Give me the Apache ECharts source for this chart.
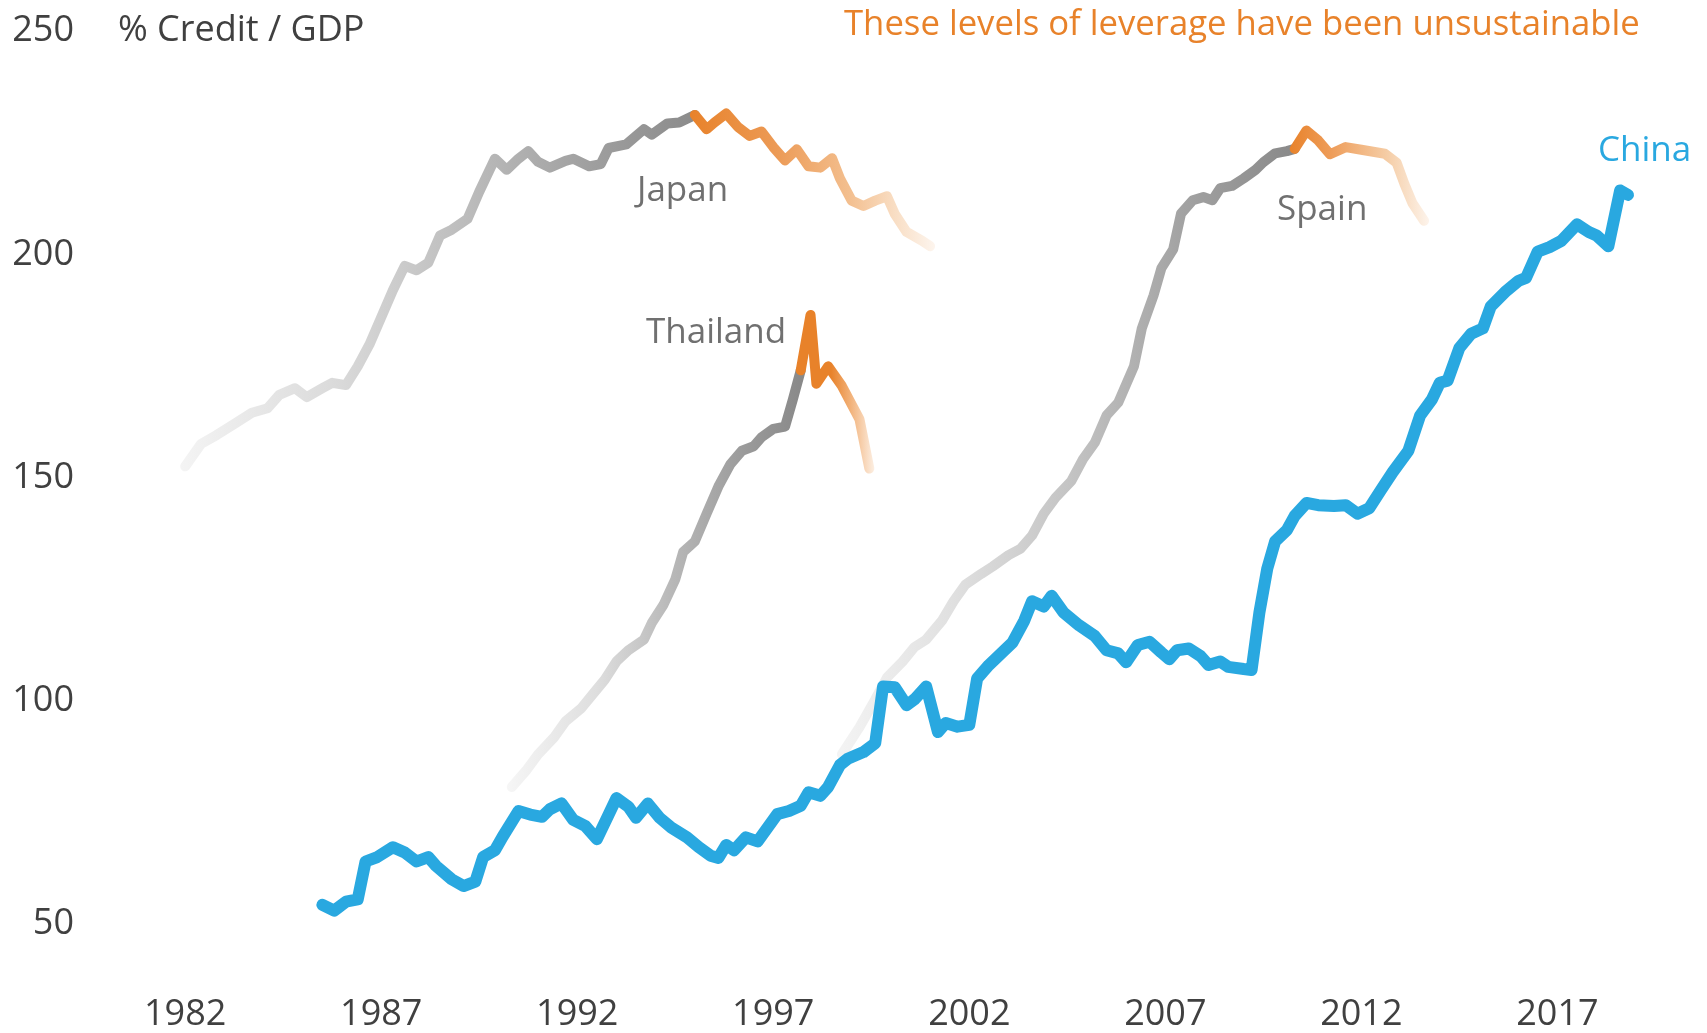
<!DOCTYPE html>
<html>
<head>
<meta charset="utf-8">
<title>Credit / GDP</title>
<script src="https://cdn.jsdelivr.net/npm/echarts@6/dist/echarts.min.js"></script>
<style>
  html, body { margin: 0; padding: 0; background: #fff; }
  #chart { width: 1707px; height: 1033px; }
</style>
</head>
<body>
<div id="chart"></div>
<script>
// x ticks (years) and y ticks
const yearTicks = [1982, 1987, 1992, 1997, 2002, 2007, 2012, 2017]
const valueTicks = [50, 100, 150, 200, 250]

// [year, % credit / GDP]
const china = [
  [1985.5, 54.3], [1985.8, 53], [1986.1, 55], [1986.4, 55.5], [1986.6, 64], [1986.9, 65],
  [1987.3, 67.2], [1987.6, 66], [1987.9, 64], [1988.2, 65], [1988.4, 63], [1988.8, 60],
  [1989.1, 58.5], [1989.4, 59.5], [1989.6, 65], [1989.9, 66.5], [1990.1, 69.6], [1990.5, 75.3],
  [1990.8, 74.5], [1991.1, 74], [1991.3, 75.7], [1991.6, 77], [1991.9, 73.3], [1992.2, 72],
  [1992.5, 69], [1992.8, 74.5], [1993.0, 78.2], [1993.3, 76.3], [1993.5, 73.8], [1993.8, 77],
  [1994.1, 73.8], [1994.4, 71.6], [1994.8, 69.4], [1995.1, 67.2], [1995.4, 65.3], [1995.6, 64.8],
  [1995.8, 67.7], [1996.0, 66.5], [1996.3, 69.4], [1996.6, 68.5], [1997.1, 74.6], [1997.4, 75.3],
  [1997.7, 76.5], [1997.9, 79.5], [1998.2, 78.7], [1998.4, 80.7], [1998.7, 85.6], [1998.9, 87],
  [1999.3, 88.5], [1999.6, 90.5], [1999.8, 103.2], [2000.1, 103], [2000.4, 99], [2000.6, 100.3],
  [2000.9, 103.2], [2001.2, 93], [2001.4, 95], [2001.7, 94.2], [2002.0, 94.6], [2002.2, 105],
  [2002.5, 108], [2002.8, 110.5], [2003.1, 113], [2003.4, 117.9], [2003.6, 122.3], [2003.9, 121.1],
  [2004.1, 123.5], [2004.4, 119.8], [2004.8, 116.9], [2005.2, 114.5], [2005.5, 111.3], [2005.8, 110.6],
  [2006.0, 108.6], [2006.3, 112.5], [2006.6, 113.2], [2006.9, 110.8], [2007.1, 109.3], [2007.3, 111.3],
  [2007.6, 111.7], [2007.9, 110], [2008.1, 108], [2008.4, 108.8], [2008.6, 107.6], [2009.0, 107.1],
  [2009.2, 106.9], [2009.4, 119.8], [2009.6, 129.6], [2009.8, 135.7], [2010.1, 138.2], [2010.3, 141.4],
  [2010.6, 144.3], [2010.9, 143.8], [2011.3, 143.6], [2011.6, 143.8], [2011.9, 141.9], [2012.2, 143.1],
  [2012.5, 147.2], [2012.8, 151.2], [2013.2, 156], [2013.5, 163.9], [2013.8, 167.5], [2014.0, 171.2],
  [2014.2, 171.7], [2014.5, 179], [2014.8, 182.2], [2015.1, 183.4], [2015.3, 188.3], [2015.7, 191.8],
  [2016.0, 194], [2016.2, 194.7], [2016.5, 200.6], [2016.8, 201.6], [2017.1, 203], [2017.5, 206.7],
  [2017.8, 205], [2018.0, 204.2], [2018.3, 201.8], [2018.6, 214.3], [2018.8, 213.3]
]

const japanRise = [
  [1982.0, 152.5], [1982.4, 157.5], [1982.8, 159.5], [1983.25, 162], [1983.7, 164.5], [1984.1, 165.5],
  [1984.4, 168.5], [1984.8, 170], [1985.1, 168], [1985.5, 170], [1985.75, 171.2], [1986.1, 170.7],
  [1986.4, 174.9], [1986.7, 179.8], [1987.0, 185.9], [1987.3, 192], [1987.6, 197.4], [1987.9, 196.4],
  [1988.2, 198.1], [1988.5, 204.2], [1988.8, 205.5], [1989.2, 207.9], [1989.5, 214], [1989.9, 221.4],
  [1990.2, 218.9], [1990.5, 221.4], [1990.75, 223.1], [1991.0, 220.7], [1991.3, 219.4], [1991.7, 220.9],
  [1991.9, 221.4], [1992.3, 219.7], [1992.6, 220.2], [1992.8, 223.8], [1993.25, 224.6], [1993.7, 228],
  [1993.9, 226.8], [1994.3, 229.3], [1994.6, 229.5], [1995.0, 231.2]
]
const japanFall = [
  [1995.0, 231.2], [1995.3, 228], [1995.5, 229.5], [1995.8, 231.5], [1996.1, 228.5], [1996.4, 226.5],
  [1996.7, 227.5], [1997.0, 224], [1997.3, 221], [1997.6, 223.5], [1997.9, 219.7], [1998.2, 219.4],
  [1998.5, 221.5], [1998.7, 217], [1999.0, 212], [1999.3, 210.8], [1999.6, 212], [1999.9, 213],
  [2000.1, 209], [2000.4, 205], [2000.8, 203], [2001.0, 201.8]
]

const thailandRise = [
  [1990.33, 80.7], [1990.7, 84.4], [1991.0, 88], [1991.4, 91.7], [1991.7, 95.4], [1992.1, 98.3],
  [1992.4, 101.5], [1992.7, 104.7], [1993.0, 108.8], [1993.3, 111.3], [1993.7, 113.7], [1993.9, 117.4],
  [1994.2, 121.5], [1994.5, 127.2], [1994.7, 133.3], [1995.0, 135.7], [1995.3, 141.9], [1995.6, 148],
  [1995.9, 152.9], [1996.2, 156], [1996.5, 157], [1996.7, 159], [1997.0, 160.9], [1997.3, 161.4],
  [1997.5, 167.5], [1997.7, 174]
]
const thailandFall = [
  [1997.7, 174], [1997.95, 186.4], [1998.1, 171], [1998.4, 174.9], [1998.75, 170.5], [1999.2, 163],
  [1999.45, 152]
]

const spainRise = [
  [1998.75, 88], [1999.2, 94.1], [1999.6, 100.3], [1999.9, 105.2], [2000.3, 108.8], [2000.6, 112],
  [2000.9, 113.7], [2001.3, 117.9], [2001.6, 122.3], [2001.9, 126], [2002.3, 128.4], [2002.6, 130.1],
  [2003.0, 132.6], [2003.3, 134], [2003.6, 137], [2003.9, 141.9], [2004.2, 145.5], [2004.6, 149.2],
  [2004.9, 154.1], [2005.2, 157.8], [2005.5, 163.9], [2005.8, 166.8], [2006.2, 174.9], [2006.4, 183.4],
  [2006.7, 190.8], [2006.9, 196.9], [2007.2, 201.1], [2007.4, 209.1], [2007.7, 212.1], [2007.97, 212.8],
  [2008.2, 212.1], [2008.4, 214.8], [2008.7, 215.3], [2009.0, 217], [2009.3, 218.9], [2009.5, 220.6],
  [2009.8, 222.6], [2010.1, 223.1], [2010.3, 223.6]
]
const spainFall = [
  [2010.3, 223.6], [2010.6, 227.7], [2010.9, 225.5], [2011.2, 222.4], [2011.6, 224], [2012.0, 223.4],
  [2012.6, 222.5], [2012.9, 220.5], [2013.1, 215.7], [2013.3, 211.5], [2013.6, 207.5]
]

const FONT = '"Open Sans", "Noto Sans", sans-serif'
const ORANGE = '#e8822a'
const BLUE = '#29a8e0'

// horizontal fade helper (relative to the line's own box)
const fade = (stops) => ({
  type: 'linear', x: 0, y: 0, x2: 1, y2: 0,
  colorStops: stops.map(s => ({ offset: s[0], color: s[1] })),
})

const line = (name, data, color, width, z) => ({
  name,
  type: 'line',
  data,
  symbol: 'none',
  z,
  clip: false,
  lineStyle: { color, width, cap: 'round', join: 'round' },
})

const chart = echarts.init(document.getElementById('chart'))
chart.setOption({
  animation: false,
  backgroundColor: '#fff',
  grid: { left: 146, right: 32, top: 31, bottom: 107 },
  xAxis: {
    type: 'value',
    min: 1981,
    max: 2020,
    axisLine: { show: false },
    axisTick: { show: false },
    splitLine: { show: false },
    axisLabel: {
      customValues: yearTicks,
      margin: 73,
      color: '#404040',
      fontSize: 36,
      fontFamily: FONT,
      formatter: (v) => String(v),
    },
  },
  yAxis: {
    type: 'value',
    min: 50,
    max: 250,
    interval: 50,
    axisLine: { show: false },
    axisTick: { show: false },
    splitLine: { show: false },
    axisLabel: {
      customValues: valueTicks,
      margin: 72,
      color: '#404040',
      fontSize: 36,
      fontFamily: FONT,
      padding: [0, 0, 4, 0],
    },
  },
  series: [
    line('Japan', japanRise, fade([[0, '#f4f4f4'], [0.3, '#dadada'], [0.55, '#bcbcbc'], [0.8, '#9e9e9e'], [1, '#8a8a8a']]), 10, 2),
    line('Japan', japanFall, fade([[0, ORANGE], [0.35, '#ec9a55'], [0.65, '#f3bf8f'], [0.85, '#f9e0c8'], [1, '#fdf5ee']]), 10, 2),
    line('Thailand', thailandRise, fade([[0, '#f6f6f6'], [0.3, '#dedede'], [0.55, '#b8b8b8'], [0.8, '#9a9a9a'], [1, '#888']]), 10, 2),
    line('Thailand', thailandFall, fade([[0, ORANGE], [0.45, ORANGE], [0.7, '#f2b27a'], [1, '#fcefe3']]), 10, 2),
    line('Spain', spainRise, fade([[0, '#f4f4f4'], [0.25, '#e0e0e0'], [0.5, '#c4c4c4'], [0.75, '#a2a2a2'], [1, '#888']]), 10, 2),
    line('Spain', spainFall, fade([[0, ORANGE], [0.3, '#ee9d5a'], [0.7, '#f5cda6'], [1, '#fdf4ec']]), 10, 2),
    line('China', china, BLUE, 12, 5),
  ],
  graphic: [
    { type: 'text', left: 118, top: 13, style: { text: '% Credit / GDP', fill: '#404040', font: '36px ' + FONT } },
    { type: 'text', left: 844, top: 8, style: { text: 'These levels of leverage have been unsustainable', fill: ORANGE, font: '34.7px ' + FONT } },
    { type: 'text', left: 637, top: 174, style: { text: 'Japan', fill: '#707070', font: '35px ' + FONT } },
    { type: 'text', left: 1277, top: 193, style: { text: 'Spain', fill: '#707070', font: '35px ' + FONT } },
    { type: 'text', left: 646, top: 316, style: { text: 'Thailand', fill: '#707070', font: '35px ' + FONT } },
    { type: 'text', left: 1598, top: 134, style: { text: 'China', fill: BLUE, font: '35px ' + FONT } },
  ],
})
</script>
</body>
</html>
